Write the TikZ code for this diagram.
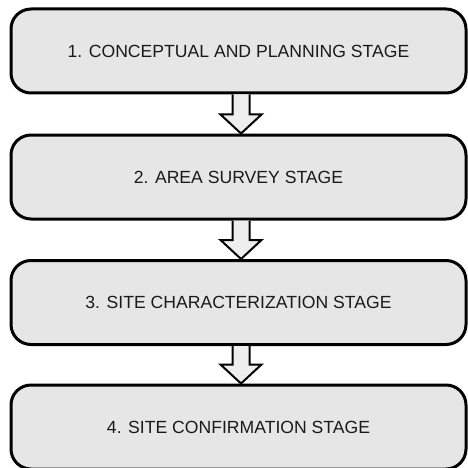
\documentclass[tikz,border=0pt]{standalone}
\usepackage{fontspec}
\setmainfont{Liberation Sans}
\definecolor{boxgray}{HTML}{E6E6E6}
\definecolor{arrowgray}{HTML}{EEEEEE}
\definecolor{inkgray}{HTML}{1A1A1A}

\begin{document}
\begin{tikzpicture}[x=1pt, y=-1pt,
  stagebox/.style={draw=black, line width=3pt, fill=boxgray, rounded corners=20pt,
    minimum width=455pt, minimum height=84pt, text=inkgray,
    font=\fontsize{17.6}{20}\selectfont},
  blockarrow/.style={draw=black, line width=2pt, fill=arrowgray, line join=miter}]
  \useasboundingbox (0,0) rectangle (468,468);
  % --- Stages ---
  \node[stagebox] (s1) at (238.5,51)    {1. CONCEPTUAL AND PLANNING STAGE};
  \node[stagebox] (s2) at (238.5,177)   {2. AREA SURVEY STAGE};
  \node[stagebox] (s3) at (238.5,302.5) {3. SITE CHARACTERIZATION STAGE};
  \node[stagebox] (s4) at (238.5,427)   {4. SITE CONFIRMATION STAGE};
  % --- Block arrows between stages ---
  \foreach \a/\b in {s1/s2, s2/s3, s3/s4}
    \draw[blockarrow] ([xshift=-6]\a.south) -- ([xshift=-6,yshift=19]\b.north)
      -- ([xshift=-18,yshift=19]\b.north) -- ([xshift=2.5]\b.north)
      -- ([xshift=23,yshift=19]\b.north) -- ([xshift=11,yshift=19]\b.north)
      -- ([xshift=11]\a.south);
\end{tikzpicture}
\end{document}
